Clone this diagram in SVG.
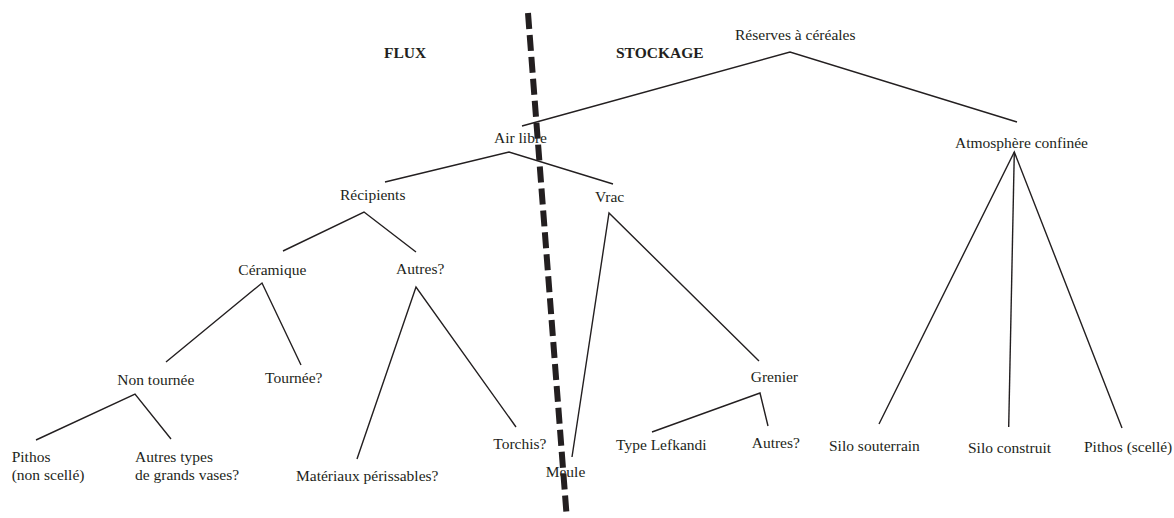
<svg xmlns="http://www.w3.org/2000/svg" width="1174" height="518" viewBox="0 0 1174 518">
<style>
text{font-family:"Liberation Serif","Times New Roman",serif;font-size:15.5px;fill:#231f20}
.b{font-weight:bold}
.c{fill:none;stroke:#231f20;stroke-width:1.4;stroke-linejoin:miter}
.d{fill:none;stroke:#231f20;stroke-width:6;stroke-dasharray:16 6}
</style>
<rect width="1174" height="518" fill="#fff"/>
<g id="connectors">
<polyline class="c" points="522,126 790,52 1017,122"/>
<polyline class="c" points="385,182 509,152 613,184"/>
<polyline class="c" points="1008.7,427 1014.3,152"/>
<polyline class="c" points="879,424 1014.3,152 1122,428"/>
<polyline class="c" points="283,251 364,212 416,252"/>
<polyline class="c" points="572,457 609,213 759,361"/>
<polyline class="c" points="166,362 262,283 301,365"/>
<polyline class="c" points="357,459 416,287 516,427"/>
<polyline class="c" points="36,440 135,394 171,439"/>
<polyline class="c" points="652,432 760,393 768,426"/>
</g>
<g id="n-flux"><text class="b" x="384" y="57.5">FLUX</text></g>
<g id="n-stockage"><text class="b" x="616" y="57.5">STOCKAGE</text></g>
<g id="n-reserves"><text x="735" y="40">Réserves à céréales</text></g>
<g id="n-airlibre"><text x="494" y="143">Air libre</text></g>
<g id="n-atmosphere"><text x="955" y="148">Atmosphère confinée</text></g>
<g id="n-recipients"><text x="340" y="199.5">Récipients</text></g>
<g id="n-vrac"><text x="595" y="201.7">Vrac</text></g>
<g id="n-ceramique"><text x="238.3" y="275">Céramique</text></g>
<g id="n-autres1"><text x="444.3" y="274" text-anchor="end">Autres?</text></g>
<g id="n-nontournee"><text x="117.3" y="385">Non tournée</text></g>
<g id="n-tournee"><text x="265" y="383.3">Tournée?</text></g>
<g id="n-grenier"><text x="750.7" y="382.3">Grenier</text></g>
<g id="n-pithos1"><text x="11.7" y="461.7">Pithos</text><text x="11.7" y="480">(non scellé)</text></g>
<g id="n-autrestypes"><text x="135" y="461.7">Autres types</text><text x="135" y="480">de grands vases?</text></g>
<g id="n-torchis"><text x="493.3" y="449.3">Torchis?</text></g>
<g id="n-lefkandi"><text x="616" y="450">Type Lefkandi</text></g>
<g id="n-autres2"><text x="751.7" y="448.3">Autres?</text></g>
<g id="n-meule"><text x="545.7" y="476.7">Meule</text></g>
<g id="n-materiaux"><text x="296" y="480.7">Matériaux périssables?</text></g>
<g id="n-silosout"><text x="829" y="450.7">Silo souterrain</text></g>
<g id="n-silocons"><text x="968" y="452.7">Silo construit</text></g>
<g id="n-pithos2"><text x="1084" y="451.7">Pithos (scellé)</text></g>
<g id="divider"><line class="d" x1="528" y1="13" x2="566.5" y2="514"/></g>
</svg>
